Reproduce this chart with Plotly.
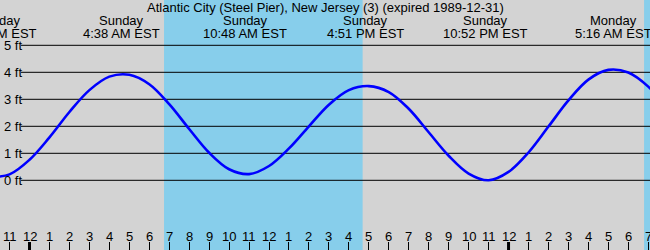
import plotly.graph_objects as go

# ---- data ----
title_text = "Atlantic City (Steel Pier), New Jersey (3) (expired 1989-12-31)"

# hours relative to Sunday 00:00 EST, tide heights (ft)
curve_hours = list(range(-2, 33))
curve_ft = [0.12, 0.22, 0.76, 1.59, 2.53, 3.34, 3.84, 3.91, 3.56, 2.82,
            1.90, 1.02, 0.41, 0.23, 0.53, 1.18, 2.00, 2.80, 3.34, 3.49,
            3.27, 2.65, 1.78, 0.91, 0.25, 0.00, 0.31, 1.03, 1.99, 2.96,
            3.73, 4.09, 3.99, 3.47, 2.64]

event_hours = [-1.73, 4.633, 10.8, 16.85, 22.867, 29.267]
event_days = ["Saturday", "Sunday", "Sunday", "Sunday", "Sunday", "Monday"]
event_times = ["10:16 PM EST", "4:38 AM EST", "10:48 AM EST", "4:51 PM EST",
               "10:52 PM EST", "5:16 AM EST"]

day_start = [6.74, 30.79]
day_end = [16.69, 33.0]

hour_ticks = list(range(-1, 32))
hour_labels = ["11", "12", "1", "2", "3", "4", "5", "6", "7", "8", "9", "10",
               "11", "12", "1", "2", "3", "4", "5", "6", "7", "8", "9", "10",
               "11", "12", "1", "2", "3", "4", "5", "6", "7"]
midnights = [0, 24]

ft_levels = [0, 1, 2, 3, 4, 5]
ft_labels = ["0 ft", "1 ft", "2 ft", "3 ft", "4 ft", "5 ft"]

# ---- figure ----
W, H = 650, 250
FONT = "Liberation Sans, Arial, sans-serif"
XR = [-1.478, 31.087]
YR = [-2.581, 6.678]
PX_PER_HR = W / (XR[1] - XR[0])

def py(px):
    """paper y from pixel-from-top"""
    return 1 - px / H

fig = go.Figure()

fig.add_trace(go.Scatter(
    x=curve_hours, y=curve_ft, mode="lines",
    line=dict(color="#0000ff", width=2.6, shape="spline"),
    hoverinfo="skip", showlegend=False))

shapes = []
for s, e in zip(day_start, day_end):
    shapes.append(dict(type="rect", xref="x", yref="paper", x0=s, x1=e, y0=0, y1=1,
                       fillcolor="#87ceeb", line=dict(width=0), layer="below"))
for lv in ft_levels:
    shapes.append(dict(type="line", xref="paper", yref="y", x0=21 / W, x1=1, y0=lv, y1=lv,
                       line=dict(color="black", width=1), layer="below"))
for m in midnights:
    shapes.append(dict(type="line", xref="x", yref="paper", x0=m, x1=m, y0=0, y1=8 / H,
                       line=dict(color="black", width=3)))

font = dict(family=FONT, size=13, color="black")
annotations = [dict(text=title_text, xref="paper", yref="paper", x=0.5, y=py(7.5),
                    xanchor="center", yanchor="middle", showarrow=False, font=font)]

# event labels: anchor clamped into the axis range (plotly hides off-range anchors)
for t, d, tm in zip(event_hours, event_days, event_times):
    xa = min(max(t, XR[0]), XR[1])
    shift = (t - xa) * PX_PER_HR
    for txt, ypx in ((d, 20.5), (tm, 33)):
        annotations.append(dict(text=txt, xref="x", yref="paper", x=xa, xshift=shift,
                                y=py(ypx), xanchor="center", yanchor="middle",
                                showarrow=False, font=font))

for lv, lab in zip(ft_levels, ft_labels):
    annotations.append(dict(text=lab, xref="paper", yref="y", x=2 / W, y=lv,
                            xanchor="left", yanchor="middle", showarrow=False, font=font))
for hx, lab in zip(hour_ticks, hour_labels):
    annotations.append(dict(text=lab, xref="x", yref="paper", x=hx, y=py(236),
                            xanchor="center", yanchor="middle", showarrow=False, font=font))

fig.update_layout(
    width=W, height=H, margin=dict(l=0, r=0, t=0, b=0, pad=0),
    plot_bgcolor="#d3d3d3", paper_bgcolor="#d3d3d3",
    shapes=shapes, annotations=annotations,
    xaxis=dict(range=XR, showgrid=False, zeroline=False, showline=False,
               tickmode="array", tickvals=hour_ticks, ticks="inside", ticklen=8,
               tickwidth=1, tickcolor="black", showticklabels=False, fixedrange=True),
    yaxis=dict(range=YR, showgrid=False, zeroline=False, showline=False,
               showticklabels=False, ticks="", fixedrange=True),
    showlegend=False,
)

fig.write_html("out.html", config={"displayModeBar": False})
